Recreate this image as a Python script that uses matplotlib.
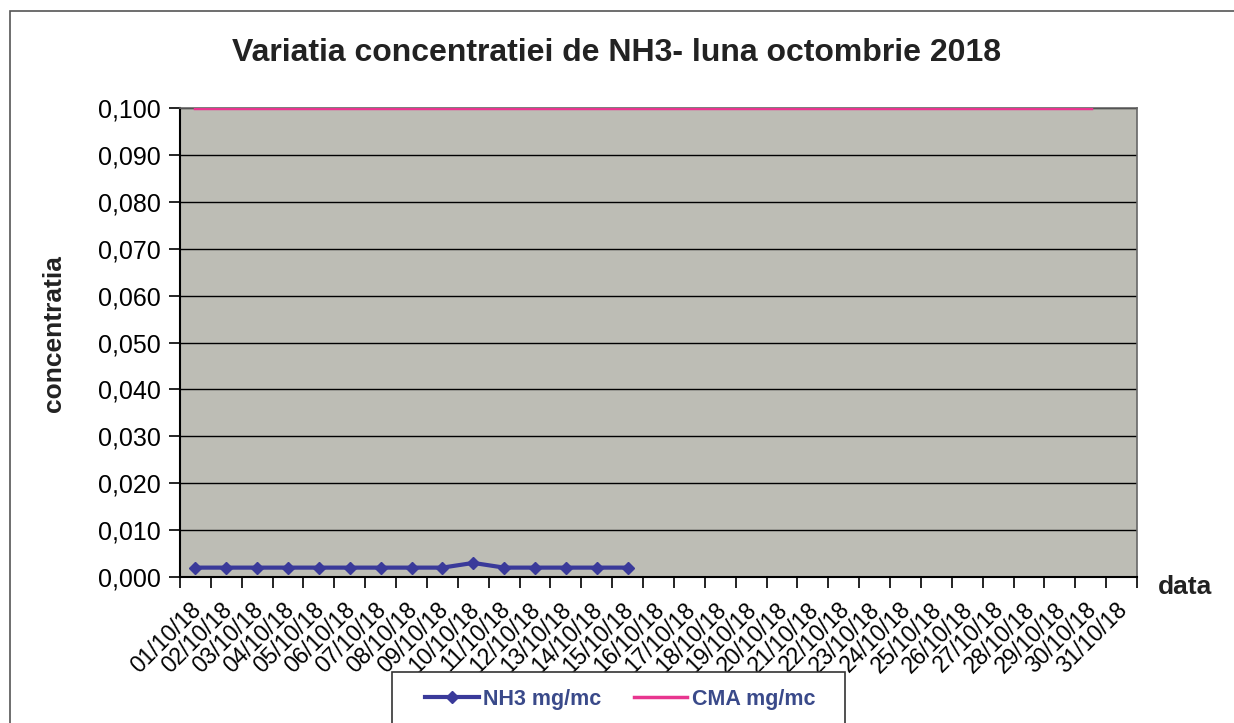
import numpy as np
import matplotlib
matplotlib.use("Agg")
import matplotlib.pyplot as plt
import matplotlib.transforms as mtransforms
from matplotlib.patches import Rectangle
from matplotlib.ticker import FuncFormatter, MultipleLocator

plt.rcParams['font.family'] = ['Liberation Sans', 'DejaVu Sans']

# date labels on the x axis (one per day of the month)
dates = ["01/10/18", "02/10/18", "03/10/18", "04/10/18", "05/10/18", "06/10/18",
         "07/10/18", "08/10/18", "09/10/18", "10/10/18", "11/10/18", "12/10/18",
         "13/10/18", "14/10/18", "15/10/18", "16/10/18", "17/10/18", "18/10/18",
         "19/10/18", "20/10/18", "21/10/18", "22/10/18", "23/10/18", "24/10/18",
         "25/10/18", "26/10/18", "27/10/18", "28/10/18", "29/10/18", "30/10/18",
         "31/10/18"]

# measured NH3 (only first 15 days available)
nh3 = [0.002, 0.002, 0.002, 0.002, 0.002, 0.002, 0.002, 0.002, 0.002,
       0.003, 0.002, 0.002, 0.002, 0.002, 0.002]

# CMA limit
cma = [0.100, 0.100, 0.100, 0.100, 0.100, 0.100, 0.100, 0.100, 0.100, 0.100,
       0.100, 0.100, 0.100, 0.100, 0.100, 0.100, 0.100, 0.100, 0.100, 0.100,
       0.100, 0.100, 0.100, 0.100, 0.100, 0.100, 0.100, 0.100, 0.100, 0.100]

W, H = 1234, 723
fig = plt.figure(figsize=(W / 100, H / 100), dpi=100)
fig.patch.set_facecolor('white')

# outer chart frame
fig.patches.append(Rectangle((10 / W, -0.2), 1.5, (H - 11) / H + 0.2,
                             transform=fig.transFigure, fill=False,
                             edgecolor='#555555', linewidth=1.2))

ax = fig.add_axes([180 / W, (H - 577) / H, (1137 - 180) / W, (577 - 108) / H])
ax.set_facecolor('#bdbdb5')

x_nh3 = np.arange(len(nh3))
x_cma = np.arange(len(cma))
ax.plot(x_cma, cma, color='#e8358f', linewidth=2.5, label='CMA mg/mc', zorder=3)
ax.plot(x_nh3, nh3, color='#3a3a9a', linewidth=3, marker='D', markersize=6,
        label='NH3 mg/mc', zorder=4)

ax.set_xlim(-0.5, len(dates) - 0.5)
ax.set_ylim(0, 0.1)
ax.yaxis.set_major_locator(MultipleLocator(0.01))
ax.yaxis.set_major_formatter(FuncFormatter(lambda v, p: f"{v:.3f}".replace('.', ',')))
ax.grid(axis='y', color='black', linewidth=1)
ax.set_axisbelow(True)

ax.set_xticks(np.arange(len(dates)))
ax.set_xticklabels(dates, rotation=45, ha='right', va='top', rotation_mode='anchor')
ax.set_xticks(np.arange(len(dates) + 1) - 0.5, minor=True)
ax.tick_params(axis='x', which='major', length=0, pad=15, labelsize=16.5)
ax.tick_params(axis='x', which='minor', length=8, width=1.2, direction='out')
ax.tick_params(axis='y', length=8, width=1.2, direction='out', labelsize=18, pad=6)

# nudge the rotated date labels a little to the left
shift = mtransforms.ScaledTranslation(-6 / 100, 0, fig.dpi_scale_trans)
for lab in ax.get_xticklabels():
    lab.set_transform(lab.get_transform() + shift)

for s in ['left', 'bottom']:
    ax.spines[s].set_color('black')
    ax.spines[s].set_linewidth(1.5)
for s in ['top', 'right']:
    ax.spines[s].set_color('#666666')
    ax.spines[s].set_linewidth(1.2)

fig.text(617 / W, (H - 53) / H, 'Variatia concentratiei de NH3- luna octombrie 2018',
         ha='center', va='center', fontsize=23, fontweight='bold', color='#222222')
fig.text(54 / W, (H - 334) / H, 'concentratia', rotation=90, ha='center', va='center',
         fontsize=19, fontweight='bold', color='#222222')
fig.text(1185 / W, (H - 587) / H, 'data', ha='center', va='center',
         fontsize=19, fontweight='bold', color='#222222')

# legend box (cut at the bottom edge like the scan)
fig.patches.append(Rectangle((392 / W, -0.1), (845 - 392) / W, 0.1 + (H - 672) / H,
                             transform=fig.transFigure, fill=True, facecolor='white',
                             edgecolor='#333333', linewidth=1.2))
h, l = ax.get_legend_handles_labels()
leg = fig.legend([h[1], h[0]], [l[1], l[0]], loc='center', ncol=2, frameon=False,
                 bbox_to_anchor=(620 / W, (H - 699) / H), fontsize=15.5,
                 handlelength=2.5, columnspacing=1.5, handletextpad=0.2)
for t in leg.get_texts():
    t.set_color('#3a4a8a')
    t.set_fontweight('bold')

fig.savefig('out.png', dpi=100)
